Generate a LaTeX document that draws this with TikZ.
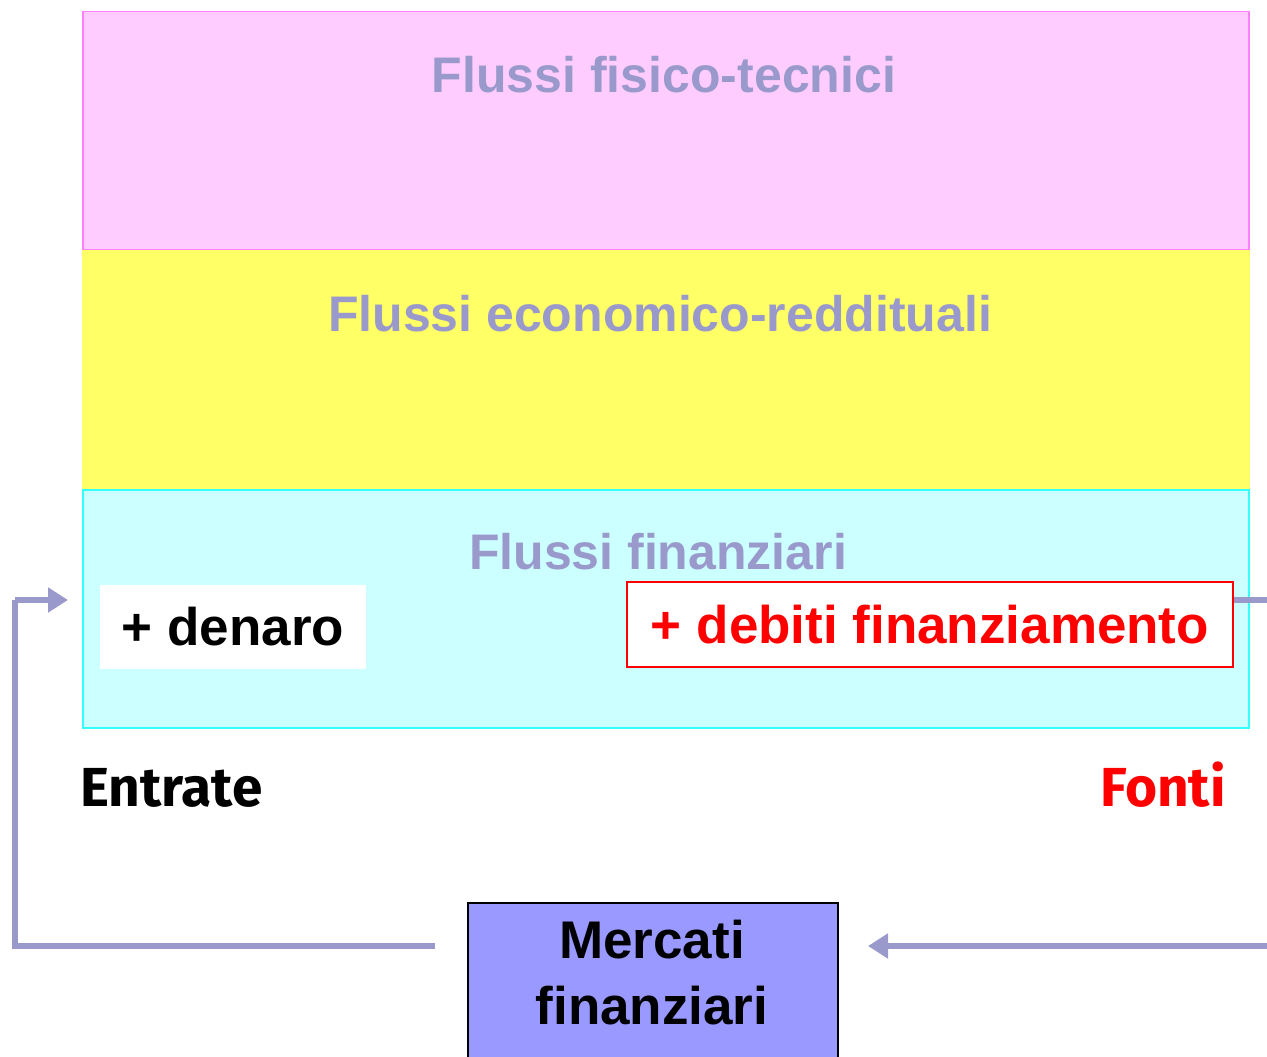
\documentclass[tikz,border=0pt]{standalone}
\usepackage{fontspec}
\setmainfont{Liberation Sans}
\newfontfamily\comicfont{Fira Sans}
\usetikzlibrary{arrows.meta}
\definecolor{pinkfill}{HTML}{FFCCFF}
\definecolor{pinkline}{HTML}{FF80FF}
\definecolor{yellowfill}{HTML}{FFFF66}
\definecolor{cyanfill}{HTML}{CCFFFF}
\definecolor{cyanline}{HTML}{33FFFF}
\definecolor{flowgray}{HTML}{9999CC}
\definecolor{marketfill}{HTML}{9999FF}
\tikzset{
  band/.style={draw, line width=1.5pt, minimum width=1166pt, minimum height=238pt, anchor=north west},
  bandtitle/.style={text=flowgray, font=\bfseries\fontsize{50}{54}\selectfont, anchor=center},
  tag/.style={font=\bfseries\fontsize{53}{58}\selectfont, anchor=center, inner sep=0pt},
  side/.style={font=\comicfont\bfseries\fontsize{55}{58}\selectfont, anchor=base west, inner sep=0pt},
  flow/.style={draw=flowgray, line width=6pt},
  flowarrow/.style={flow, -{Triangle[length=20pt,width=24pt]}},
}
\begin{document}
\begin{tikzpicture}[x=1pt,y=-1pt]
\useasboundingbox (0,0) rectangle (1267,1057);
\node[band, fill=pinkfill, draw=pinkline] (phys) at (82,11) {};
\node[band, fill=yellowfill, draw=yellowfill] (econ) at (82,250) {};
\node[band, fill=cyanfill, draw=cyanline] (fin) at (82,489) {};
\node[bandtitle] (tphys) at (664,75) {Flussi fisico-tecnici};
\node[bandtitle] (tecon) at (660,314) {Flussi economico-reddituali};
\node[bandtitle] (tfin) at (658,552) {Flussi finanziari};
\node[tag, fill=white, minimum width=266pt, minimum height=84pt] (den) at (233,627) {+ denaro};
\node[tag, fill=white, draw=red, line width=1.5pt, text=red, minimum width=606pt, minimum height=85pt] (deb) at (930,624.5) {+ debiti finanziamento};
\node[side] (ent) at (80,806) {Entrate};
\node[side, text=red] (fon) at (1100,806) {Fonti};
\node[draw=black, line width=1.5pt, fill=marketfill, minimum width=370pt, minimum height=170pt, anchor=north west, inner sep=0pt] (mkt) at (467,902) {};
\node[font=\bfseries\fontsize{53}{66}\selectfont, align=center, anchor=center] (mkttext) at (652,973) {Mercati\\finanziari};
\coordinate (rexit) at (1267,600);
\coordinate (lcorner) at (15,600);
\coordinate (lbottom) at (15,946);
\coordinate (lend) at (435,946);
\coordinate (rin) at (1267,946);
\coordinate (rtip) at (868,946);
\coordinate (ltip) at (68,600);
\draw[flow] (deb.east |- rexit) -- (rexit);
\draw[flow] (lend) -- (lbottom) -- (lcorner);
\draw[flowarrow] (lcorner) -- (ltip);
\draw[flowarrow] (rin) -- (rtip);
\end{tikzpicture}
\end{document}
